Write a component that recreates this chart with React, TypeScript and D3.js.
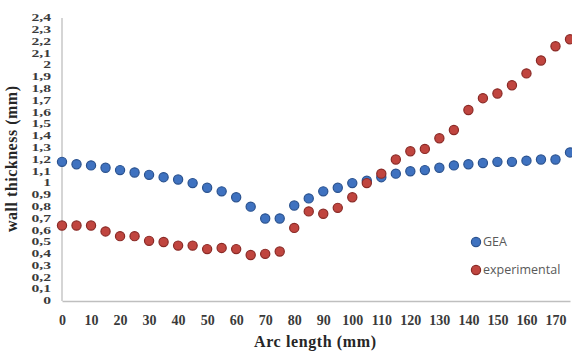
import React, { useEffect, useRef } from 'react';
import * as d3 from 'd3';

const arcLength = [0, 5, 10, 15, 20, 25, 30, 35, 40, 45, 50, 55, 60, 65, 70, 75, 80, 85,
    90, 95, 100, 105, 110, 115, 120, 125, 130, 135, 140, 145, 150, 155, 160, 165, 170, 175];
const gea = [1.18, 1.16, 1.15, 1.13, 1.11, 1.09, 1.07, 1.05, 1.03, 1.0, 0.96, 0.93, 0.88, 0.8,
    0.7, 0.7, 0.81, 0.87, 0.93, 0.96, 1.0, 1.02, 1.05, 1.08, 1.1, 1.11, 1.13, 1.15, 1.16, 1.17,
    1.18, 1.18, 1.19, 1.2, 1.2, 1.26];
const experimental = [0.64, 0.64, 0.64, 0.59, 0.55, 0.55, 0.51, 0.5, 0.47, 0.47, 0.44, 0.45,
    0.44, 0.39, 0.4, 0.42, 0.62, 0.76, 0.74, 0.79, 0.88, 1.0, 1.08, 1.2, 1.27, 1.29, 1.38, 1.45,
    1.62, 1.72, 1.76, 1.83, 1.93, 2.04, 2.16, 2.22];
const xTicks = d3.range(0, 171, 10);
const yTicks = d3.range(0, 25).map((i) => i / 10);
const seriesNames = ['GEA', 'experimental'];

const W = 572;
const H = 354;

const App: React.FC = () => {
    const svgRef = useRef<SVGSVGElement | null>(null);

    useEffect(() => {
        const svg = d3.select(svgRef.current);
        svg.selectAll('*').remove();
        const margin = { top: 18, right: 2, bottom: 53, left: 62 };

        const x = d3.scaleLinear().domain([0, 175]).range([margin.left, W - margin.right]);
        const y = d3.scaleLinear().domain([0, 2.4]).range([H - margin.bottom, margin.top]);

        const serif = '"Liberation Serif", "Times New Roman", serif';

        // y axis line
        svg.append('line')
            .attr('x1', x(0)).attr('x2', x(0))
            .attr('y1', y(0)).attr('y2', y(2.4))
            .attr('stroke', '#bfbfbf')
            .attr('stroke-width', 1.3);

        // y tick labels: squeezed like the original (labels are packed tightly)
        svg.append('g')
            .selectAll('g')
            .data(yTicks)
            .join('g')
            .attr('transform', (d) => `translate(${x(0) - 11}, ${y(d)})`)
            .append('text')
            .attr('transform', 'scale(1.3, 0.8)')
            .attr('text-anchor', 'end')
            .attr('dy', '0.34em')
            .attr('font-family', serif)
            .attr('font-weight', 'bold')
            .attr('font-size', 12)
            .attr('fill', '#3a3a3a')
            .text((d) => String(+d.toFixed(1)).replace('.', ','));

        // x axis
        const xAxis = svg
            .append('g')
            .attr('transform', `translate(0, ${y(0)})`)
            .call(d3.axisBottom(x).tickValues(xTicks).tickSize(0).tickPadding(14));
        xAxis.select('.domain').attr('stroke', '#bfbfbf').attr('stroke-width', 1.3);
        xAxis.selectAll('text')
            .attr('font-family', serif)
            .attr('font-weight', 'bold')
            .attr('font-size', 14)
            .attr('fill', '#3a3a3a');

        const series = [
            { name: seriesNames[0], values: gea, fill: '#3f72c0', stroke: '#2a528f' },
            { name: seriesNames[1], values: experimental, fill: '#c0453f', stroke: '#8a2a26' },
        ];

        series.forEach((s) => {
            svg.append('g')
                .selectAll('circle')
                .data(s.values)
                .join('circle')
                .attr('cx', (_, i) => x(arcLength[i]))
                .attr('cy', (d) => y(d))
                .attr('r', 4.6)
                .attr('fill', s.fill)
                .attr('stroke', s.stroke)
                .attr('stroke-width', 1.2);
        });

        // legend
        const legend = svg.append('g').attr('transform', 'translate(476, 242)');
        series.forEach((s, i) => {
            const g = legend.append('g').attr('transform', `translate(0, ${i * 28})`);
            g.append('circle')
                .attr('r', 4.6)
                .attr('fill', s.fill)
                .attr('stroke', s.stroke)
                .attr('stroke-width', 1.2);
            g.append('text')
                .attr('x', 7)
                .attr('dy', '0.35em')
                .attr('font-family', '"Open Sans", sans-serif')
                .attr('font-size', 12.5)
                .attr('fill', '#595959')
                .text(s.name);
        });

        // axis titles
        svg.append('text')
            .attr('x', 315)
            .attr('y', 347)
            .attr('text-anchor', 'middle')
            .attr('font-family', serif)
            .attr('font-weight', 'bold')
            .attr('font-size', 16)
            .attr('textLength', 122)
            .attr('fill', '#262626')
            .text('Arc length (mm)');

        svg.append('text')
            .attr('transform', 'translate(17, 159) rotate(-90)')
            .attr('text-anchor', 'middle')
            .attr('font-family', serif)
            .attr('font-weight', 'bold')
            .attr('font-size', 16)
            .attr('textLength', 146)
            .attr('fill', '#262626')
            .text('wall thickness (mm)');
    }, []);

    return (
        <svg
            ref={svgRef}
            width={W}
            height={H}
            style={{ position: 'absolute', left: 0, top: 0, background: '#fff' }}
        />
    );
};

export default App;
